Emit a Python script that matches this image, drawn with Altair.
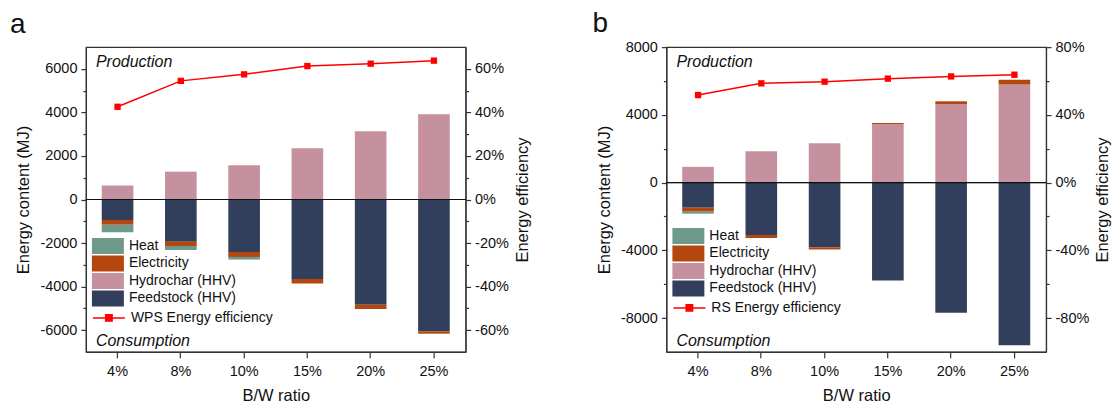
import altair as alt
import pandas as pd

ratios = ["4%", "8%", "10%", "15%", "20%", "25%"]

# WPS system (panel a), MJ per batch; negative = consumed
wps_feedstock = [-945, -1937, -2411, -3647, -4836, -6055]
wps_hydrochar = [640, 1280, 1570, 2350, 3130, 3920]
wps_electricity = [-215, -199, -229, -211, -198, -110]
wps_heat = [-340, -184, -120, 0, 0, 0]
wps_efficiency = [0.426, 0.545, 0.575, 0.613, 0.624, 0.638]

# RS system (panel b)
rs_feedstock = [-1484, -3092, -3840, -5783, -7686, -9611]
rs_hydrochar = [930, 1855, 2326, 3445, 4640, 5800]
rs_electricity = [-236, -176, -118, 75, 160, 280]
rs_heat = [-117, 0, 0, 0, 0, 0]
rs_efficiency = [0.517, 0.586, 0.596, 0.614, 0.627, 0.637]

components = ["Heat", "Electricity", "Hydrochar (HHV)", "Feedstock (HHV)"]
component_colors = ["#6e9a8b", "#b3470d", "#c6919e", "#323f5c"]
stack_rank = {"Feedstock (HHV)": 0, "Hydrochar (HHV)": 1, "Electricity": 2, "Heat": 3}

FONT = "Liberation Sans"
NEG_LABEL = "(datum.value < 0 ? '-' : '') + format(abs(datum.value), '{fmt}')"

# wide swatch / line-with-marker legend symbols (size 256 -> 16 px unit)
SWATCH = "M-2,-1H2V1H-2Z"
LINE_MARK = "M-2,0H2M-0.4,-0.4H0.4V0.4H-0.4Z"


def panel(letter, feed, hydro, elec, heat, eff, series_name,
          mj_domain, mj_major, mj_minor, eff_domain, eff_major, eff_minor,
          dx, title_offset, legend_y, line_legend_y):
    rows = []
    for comp, vals in [("Feedstock (HHV)", feed), ("Hydrochar (HHV)", hydro),
                       ("Electricity", elec), ("Heat", heat)]:
        for r, v in zip(ratios, vals):
            if v != 0:
                rows.append({"ratio": r, "component": comp, "mj": v,
                             "rank": stack_rank[comp]})
    bars_df = pd.DataFrame(rows)
    eff_df = pd.DataFrame({"ratio": ratios, "eff": eff, "series": series_name})

    x = alt.X("ratio:N", sort=ratios,
              scale=alt.Scale(paddingInner=0.5, paddingOuter=0.25),
              axis=alt.Axis(title="B/W ratio", labelAngle=0, tickSize=6,
                            labelPadding=7, titlePadding=9))
    mj_scale = alt.Scale(domain=mj_domain, nice=False, zero=False)
    eff_scale = alt.Scale(domain=eff_domain, nice=False, zero=False)

    bars = alt.Chart(bars_df).mark_bar().encode(
        x=x,
        y=alt.Y("mj:Q", stack="zero", scale=mj_scale,
                axis=alt.Axis(orient="left", values=mj_major,
                              title="Energy content (MJ)", tickSize=5,
                              labelExpr=NEG_LABEL.format(fmt="d"),
                              titlePadding=8)),
        fill=alt.Fill("component:N",
                      scale=alt.Scale(domain=components, range=component_colors),
                      legend=alt.Legend(title=None, orient="none", legendX=14,
                                        legendY=legend_y,
                                        symbolType=SWATCH,
                                        symbolSize=256, symbolStrokeWidth=0,
                                        symbolOpacity=1,
                                        labelFontSize=14, labelOffset=13,
                                        rowPadding=1.5, padding=0)),
        order=alt.Order("rank:Q"),
    )

    minor_left = alt.Chart(bars_df).mark_point(opacity=0).encode(
        x=x,
        y=alt.Y("mj:Q", scale=mj_scale,
                axis=alt.Axis(orient="left", values=mj_minor, labels=False,
                              domain=False, tickSize=3, title=None)),
    )

    zero_line = alt.Chart(eff_df).mark_rule(color="#111", strokeWidth=1).encode(
        y=alt.datum(0, scale=mj_scale, axis=None),
    )

    line = alt.Chart(eff_df).mark_line(strokeWidth=1.5).encode(
        x=x,
        y=alt.Y("eff:Q", scale=eff_scale,
                axis=alt.Axis(orient="right", values=eff_major,
                              title="Energy efficiency", tickSize=5,
                              titleAngle=270, titleBaseline="top",
                              labelExpr=NEG_LABEL.format(fmt=".0%"),
                              titlePadding=6)),
        stroke=alt.Stroke("series:N", scale=alt.Scale(range=["#ff0000"]),
                          legend=alt.Legend(title=None, orient="none",
                                            legendX=14, legendY=line_legend_y,
                                            symbolType=LINE_MARK,
                                            symbolSize=256,
                                            symbolStrokeWidth=1.5,
                                            symbolFillColor="#ff0000",
                                            labelFontSize=14, labelOffset=13,
                                            padding=0)),
    )

    points = alt.Chart(eff_df).mark_square(color="#ff0000", size=40, opacity=1).encode(
        x=x,
        y=alt.Y("eff:Q", scale=eff_scale, axis=None),
    )

    minor_right = alt.Chart(eff_df).mark_point(opacity=0).encode(
        x=x,
        y=alt.Y("eff:Q", scale=eff_scale,
                axis=alt.Axis(orient="right", values=eff_minor, labels=False,
                              domain=False, tickSize=3, title=None)),
    )

    notes = pd.DataFrame({"t": ["Production", "Consumption"], "py": [15, 294]})
    note_text = alt.Chart(notes).mark_text(
        align="left", baseline="middle", fontStyle="italic", fontSize=16,
        font=FONT, color="#111"
    ).encode(x=alt.value(10), y=alt.Y("py:Q", scale=None), text="t:N")

    return alt.layer(
        bars, minor_left, zero_line, line, points, minor_right, note_text
    ).resolve_scale(y="independent").resolve_axis(y="independent").properties(
        width=380, height=305,
        title=alt.TitleParams(letter, anchor="start", frame="bounds",
                              fontSize=28, fontWeight="normal", font=FONT,
                              dx=dx, offset=title_offset, color="#111"),
    )


panel_a = panel("a", wps_feedstock, wps_hydrochar, wps_electricity, wps_heat,
                wps_efficiency, "WPS Energy efficiency",
                [-7000, 7000], list(range(-6000, 6001, 2000)),
                [-5000, -3000, -1000, 1000, 3000, 5000],
                [-0.7, 0.7], [-0.6, -0.4, -0.2, 0, 0.2, 0.4, 0.6],
                [-0.5, -0.3, -0.1, 0.1, 0.3, 0.5], -6, 8, 191, 262)

panel_b = panel("b", rs_feedstock, rs_hydrochar, rs_electricity, rs_heat,
                rs_efficiency, "RS Energy efficiency",
                [-10000, 8000], [-8000, -4000, 0, 4000, 8000],
                [-6000, -2000, 2000, 6000],
                [-1.0, 0.8], [-0.8, -0.4, 0, 0.4, 0.8],
                [-0.6, -0.2, 0.2, 0.6], -4, 1, 181, 252)

chart = alt.hconcat(panel_a, panel_b, spacing=60).resolve_scale(
    fill="independent", stroke="independent"
).resolve_legend(fill="independent", stroke="independent").properties(
    padding={"left": 9, "top": 9, "right": 0, "bottom": 0}
).configure(font=FONT).configure_view(
    stroke="#333", strokeWidth=1.2
).configure_axis(
    labelFont=FONT, titleFont=FONT, labelFontSize=14.5, titleFontSize=16.5,
    titleFontWeight="normal", labelColor="#111", titleColor="#111",
    domainColor="#333", tickColor="#333", domainWidth=1.2, tickWidth=1.2,
    grid=False, labelPadding=4
).configure_legend(labelFont=FONT, labelColor="#111")

chart.save("out.html", embed_options={"renderer": "svg", "actions": False})
